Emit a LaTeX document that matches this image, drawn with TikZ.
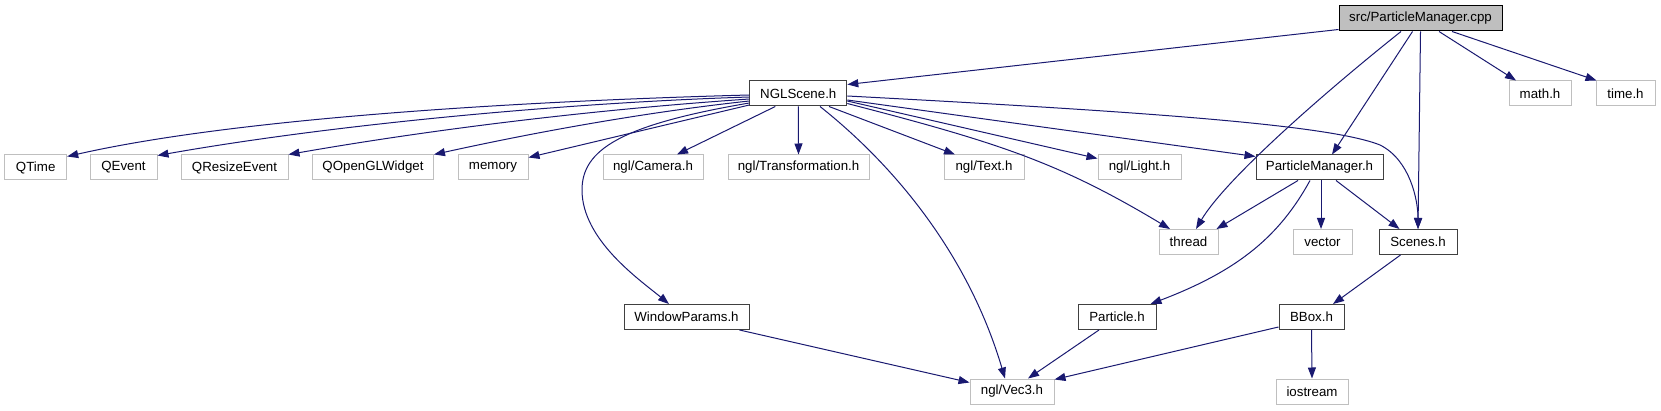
\documentclass[tikz,border=0pt]{standalone}
\usepackage{fontspec}
\setmainfont{Liberation Sans}
\usepackage{tikz}
\usetikzlibrary{arrows.meta}
\definecolor{cEdge}{HTML}{191970}
\definecolor{cDoc}{HTML}{404040}
\definecolor{cExt}{HTML}{BFBFBF}
\definecolor{cRoot}{HTML}{BFBFBF}
\tikzset{
  inc/box/.style ={draw, line width=1pt, minimum height=25pt, inner sep=0pt,
                   font=\fontsize{13.3}{15}\selectfont, fill=white},
  inc/doc/.style ={inc/box, draw=cDoc},
  inc/ext/.style ={inc/box, draw=cExt},
  inc/root/.style={inc/box, draw=black, fill=cRoot},
  inc/arr/.style ={-{Triangle[length=11pt, width=8pt]}, line width=1pt, cEdge}
}
\begin{document}
\begin{tikzpicture}[x=1pt, y=-1pt]
    \useasboundingbox (0,0) rectangle (1661,411);
    % --- source file and its direct includes ---
    \node[inc/root, minimum width=163] (pmcpp) at (1420.5,18.5) {src/ParticleManager.cpp};
    \node[inc/doc, minimum width=97] (nglscene) at (798.3,93.5) {NGLScene.h};
    \node[inc/ext, minimum width=62] (mathh) at (1540,93.5) {math.h};
    \node[inc/ext, minimum width=59] (timeh) at (1625.5,93.5) {time.h};
    % --- third row ---
    \foreach \nm/\cx/\w in {QTime/35.7/62, QEvent/123.5/67, QResizeEvent/234.5/107,
                            QOpenGLWidget/373/121, memory/493/70} {
      \node[inc/ext, minimum width=\w] (\nm) at (\cx,167.5) {\nm};
    }
    \node[inc/ext, minimum width=100] (camera) at (653,167.5) {ngl/Camera.h};
    \node[inc/ext, minimum width=141] (transf) at (798.5,167.5) {ngl/Transformation.h};
    \node[inc/ext, minimum width=80] (ngltext) at (984,167.5) {ngl/Text.h};
    \node[inc/ext, minimum width=83] (ngllight) at (1139.5,167.5) {ngl/Light.h};
    \node[inc/doc, minimum width=127] (pmh) at (1319.5,167.5) {ParticleManager.h};
    % --- fourth row ---
    \node[inc/ext, minimum width=59] (thread) at (1188.5,242) {thread};
    \node[inc/ext, minimum width=59] (vector) at (1322.5,242) {vector};
    \node[inc/doc, minimum width=78] (scenes) at (1418,242) {Scenes.h};
    % --- fifth and last rows ---
    \node[inc/doc, minimum width=125] (winparams) at (686.5,317) {WindowParams.h};
    \node[inc/doc, minimum width=78] (particle) at (1117,317) {Particle.h};
    \node[inc/doc, minimum width=65] (bbox) at (1311.5,317) {BBox.h};
    \node[inc/ext, minimum width=84] (vec3) at (1012,391.5) {ngl/Vec3.h};
    \node[inc/ext, minimum width=72] (iostream) at (1312,391.5) {iostream};

    % --- includes of src/ParticleManager.cpp ---
    \draw[inc/arr] ([yshift=2pt]pmcpp.south west) -- ([yshift=-4pt]nglscene.north east);
    \draw[inc/arr] ([xshift=-19.5pt]pmcpp.south) .. controls (1320,96) and (1225,180) .. ([xshift=7.5pt]thread.north);
    \draw[inc/arr] ([xshift=-8pt]pmcpp.south) -- ([xshift=12.5pt]pmh.north);
    \draw[inc/arr] (pmcpp.south) -- (scenes.north);
    \draw[inc/arr] ([xshift=18.5pt]pmcpp.south) -- ([xshift=-24pt]mathh.north);
    \draw[inc/arr] ([xshift=31.5pt]pmcpp.south) -- ([xshift=1pt]timeh.north west);
    % --- includes of NGLScene.h ---
    \draw[inc/arr] ([yshift=-1.5pt]nglscene.west) .. controls (560,100) and (250,115) .. ([yshift=-2pt]QTime.north east);
    \draw[inc/arr] ([yshift=-3.5pt]nglscene.west) .. controls (560,103) and (330,125) .. ([yshift=-1pt]QEvent.north east);
    \draw[inc/arr] ([yshift=-5.5pt]nglscene.west) .. controls (560,112) and (400,135) .. (QResizeEvent.north east);
    \draw[inc/arr] ([yshift=-7.5pt]nglscene.west) .. controls (620,115) and (500,140) .. (QOpenGLWidget.north east);
    \draw[inc/arr] ([yshift=-11.5pt]nglscene.west) -- ([yshift=-3pt]memory.north east);
    \draw[inc/arr] ([yshift=-9.5pt]nglscene.west) .. controls (620,125) and (582,150) .. (582,190)
                   .. controls (582,240) and (640,280) .. ([xshift=-17.5pt]winparams.north);
    \draw[inc/arr] ([xshift=-23pt]nglscene.south) -- ([xshift=24pt]camera.north);
    \draw[inc/arr] (nglscene.south) -- (transf.north);
    \draw[inc/arr] ([xshift=30.7pt]nglscene.south) -- ([xshift=-29pt]ngltext.north);
    \draw[inc/arr] ([yshift=-7.5pt]nglscene.east) -- ([yshift=-4pt]ngllight.north west);
    \draw[inc/arr] ([yshift=-6.5pt]nglscene.east) -- ([yshift=-2pt]pmh.north west);
    \draw[inc/arr] ([yshift=-2.5pt]nglscene.east) .. controls (1150,112) and (1330,125) .. (1380,145)
                   .. controls (1410,160) and (1418,200) .. (scenes.north);
    \draw[inc/arr] ([yshift=3pt]nglscene.south east) .. controls (1000,143) and (1060,163) .. ([xshift=-18.5pt]thread.north);
    \draw[inc/arr] ([xshift=21.7pt]nglscene.south) .. controls (900,170) and (970,260) .. ([xshift=-7pt]vec3.north);
    % --- includes of ParticleManager.h ---
    \draw[inc/arr] ([xshift=-21.5pt]pmh.south) -- ([xshift=-2pt]thread.north east);
    \draw[inc/arr] ([xshift=-9.5pt]pmh.south) .. controls (1280,235) and (1240,270) .. ([xshift=-6pt]particle.north east);
    \draw[inc/arr] ([xshift=1.5pt]pmh.south) -- ([xshift=-1.5pt]vector.north);
    \draw[inc/arr] ([xshift=16.5pt]pmh.south) -- ([xshift=21pt]scenes.north west);
    % --- lower levels ---
    \draw[inc/arr] ([xshift=-17.5pt]scenes.south) -- ([xshift=21.5pt]bbox.north);
    \draw[inc/arr] ([yshift=3pt]bbox.south west) -- ([yshift=-1pt]vec3.north east);
    \draw[inc/arr] (bbox.south) -- (iostream.north);
    \draw[inc/arr] ([xshift=-18pt]particle.south) -- ([xshift=16pt]vec3.north);
    \draw[inc/arr] ([xshift=-10pt]winparams.south east) -- ([yshift=-4pt]vec3.north west);
\end{tikzpicture}
\end{document}
